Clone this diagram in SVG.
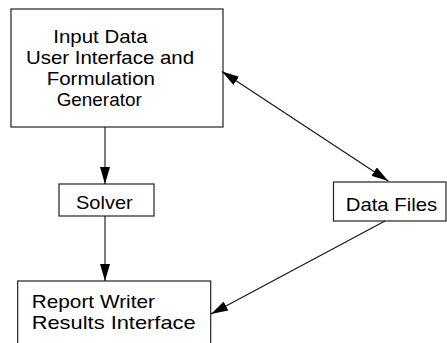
<svg xmlns="http://www.w3.org/2000/svg" width="447" height="343" viewBox="0 0 447 343">
<style>
.box{fill:#fff;stroke:#222;stroke-width:1.2}
.t{font-family:"Liberation Sans",Arial,sans-serif;font-size:18.5px;fill:#000}
.c{stroke:#111;stroke-width:1.1;fill:none}
</style>
<defs>
<marker id="ah" viewBox="0 0 17 10" refX="17" refY="5" markerWidth="17" markerHeight="10" markerUnits="userSpaceOnUse" orient="auto-start-reverse">
<path d="M0,0 L17,5 L0,10 Z" fill="#000"/>
</marker>
</defs>
<rect width="447" height="343" fill="#fff"/>
<g id="input">
<rect class="box" x="11" y="9" width="212" height="118"/>
<text class="t" x="53.3" y="42.5" textLength="94.4" lengthAdjust="spacingAndGlyphs">Input Data</text>
<text class="t" x="26" y="63.5" textLength="168" lengthAdjust="spacingAndGlyphs">User Interface and</text>
<text class="t" x="46.7" y="84.5" textLength="108.3" lengthAdjust="spacingAndGlyphs">Formulation</text>
<text class="t" x="56.7" y="105.5" textLength="85" lengthAdjust="spacingAndGlyphs">Generator</text>
</g>
<g id="solver">
<rect class="box" x="59" y="184" width="95" height="32"/>
<text class="t" x="76" y="209" textLength="56.7" lengthAdjust="spacingAndGlyphs">Solver</text>
</g>
<g id="datafiles">
<rect class="box" x="333.5" y="182" width="112.5" height="39"/>
<text class="t" x="345.7" y="210.5" textLength="91.6" lengthAdjust="spacingAndGlyphs">Data Files</text>
</g>
<g id="report">
<rect class="box" x="17.7" y="281" width="193" height="70"/>
<text class="t" x="31.7" y="308.3" textLength="123.3" lengthAdjust="spacingAndGlyphs">Report Writer</text>
<text class="t" x="31.7" y="329.3" textLength="164" lengthAdjust="spacingAndGlyphs">Results Interface</text>
</g>
<g id="connectors">
<line class="c" x1="105" y1="127" x2="105" y2="184" marker-end="url(#ah)"/>
<line class="c" x1="105" y1="216" x2="105" y2="281" marker-end="url(#ah)"/>
<line class="c" x1="222" y1="71.5" x2="388.3" y2="181" marker-start="url(#ah)" marker-end="url(#ah)"/>
<line class="c" x1="385" y1="221" x2="211" y2="314" marker-end="url(#ah)"/>
</g>
</svg>
